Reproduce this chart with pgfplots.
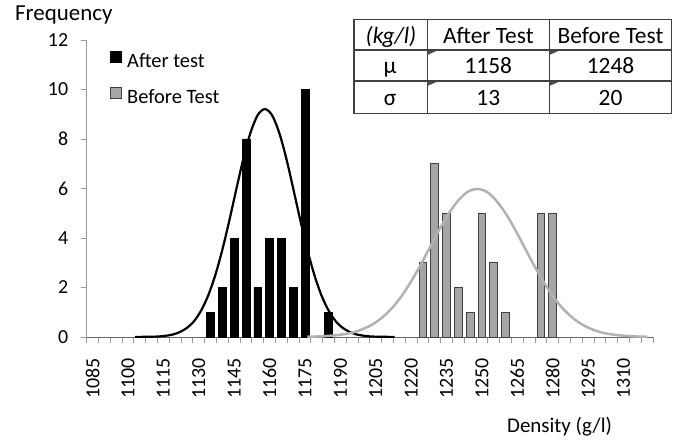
\documentclass[border=0pt]{standalone}
\usepackage{pgfplots}
\pgfplotsset{compat=1.18}
\usepackage{fontspec}
\setmainfont{Carlito}
\definecolor{barg}{HTML}{A6A6A6}
\definecolor{curveg}{HTML}{B2B2B2}
\newcommand{\fs}[1]{\fontsize{#1}{#1}\selectfont}
\pgfplotsset{sq legend/.style={legend image code/.code={\draw[##1,line width=0.7bp] (0bp,-1bp) rectangle (11bp,10bp);}}}
\begin{document}
\begin{tikzpicture}
\path[use as bounding box] (-86.7bp,-104bp) rectangle (592.3bp,337bp);
\begin{axis}[
  at={(0,0)}, anchor=south west,
  scale only axis, width=566.3bp, height=297bp,
  xmin=1082.5, xmax=1322.5, ymin=0, ymax=12,
  axis lines=left,
  x axis line style={-, draw=black!60, line width=1bp},
  y axis line style={-, draw=black!40, line width=1bp},
  tick align=outside,
  xtick={1085,1100,...,1310},
  major x tick style={draw=none},
  minor xtick={1082.5,1087.5,...,1322.5},
  minor x tick style={draw=black!40, line width=0.8bp},
  minor tick length=6bp,
  ytick={0,2,...,12},
  major y tick style={draw=black!40, line width=0.8bp},
  major tick length=6bp,
  /pgf/number format/assume math mode=true,
  /pgf/number format/1000 sep={},
  xticklabel style={rotate=90, anchor=east, font=\fs{20}},
  yticklabel style={font=\fs{20}},
  xticklabel shift=12bp,
  yticklabel shift=9bp,
  legend style={draw=none, fill=none, at={(0.04,0.963)}, anchor=north west,
    font=\fs{20.5}, inner sep=0pt, row sep=17bp, column sep=5bp, nodes={inner sep=1bp}},
  legend cell align=left,
]
\addplot[ybar, bar width=3.3, bar shift=0pt, fill=black, draw=black, sq legend]
  coordinates {(1135,1) (1140,2) (1145,4) (1150,8) (1155,2) (1160,4) (1165,4) (1170,2) (1175,10) (1185,1)};
\addlegendentry{After test}
\addplot[ybar, bar width=3.3, bar shift=0pt, fill=barg, draw=black!75, line width=0.8bp, sq legend]
  coordinates {(1225,3) (1230,7) (1235,5) (1240,2) (1245,1) (1250,5) (1255,3) (1260,1) (1275,5) (1280,5)};
\addlegendentry{Before Test}
\addplot[smooth, black, line width=2.2bp, forget plot] coordinates {
(1103,0.00) (1108,0.01) (1113,0.02) (1116,0.05) (1119,0.10) (1122,0.20) (1125,0.37)
(1128,0.64) (1131,1.07) (1134,1.68) (1137,2.50) (1140,3.53) (1143,4.73) (1146,6.01)
(1149,7.25) (1152,8.28) (1155,8.97) (1158,9.21) (1161,8.97) (1164,8.28) (1167,7.25)
(1170,6.01) (1173,4.73) (1176,3.53) (1179,2.50) (1182,1.68) (1185,1.07) (1188,0.64)
(1191,0.37) (1194,0.20) (1197,0.10) (1200,0.05) (1203,0.02) (1208,0.01) (1213,0.00)};
\addplot[smooth, curveg, line width=2.5bp, forget plot] coordinates {
(1176,0.01) (1180,0.02) (1184,0.04) (1188,0.07) (1192,0.12) (1196,0.20) (1200,0.34)
(1204,0.53) (1208,0.81) (1212,1.18) (1216,1.66) (1220,2.25) (1224,2.91) (1228,3.63)
(1232,4.35) (1236,5.00) (1240,5.52) (1244,5.87) (1248,5.98) (1252,5.87) (1256,5.52)
(1260,5.00) (1264,4.35) (1268,3.63) (1272,2.91) (1276,2.25) (1280,1.66) (1284,1.18)
(1288,0.81) (1292,0.53) (1296,0.34) (1300,0.20) (1304,0.12) (1308,0.07) (1312,0.04)
(1316,0.02) (1320,0.01)};
\end{axis}
\begin{scope}[x=1bp,y=-1bp,shift={(-86.7bp,337bp)}]
  \node[anchor=base west, inner sep=0pt, font=\fs{23}] at (15,21) {Frequency};
  \node[anchor=base west, inner sep=0pt, font=\fs{21}] at (507,433) {Density (g/l)};
  % table
  \draw[black!75, line width=1.3bp] (354,19.3) rectangle (671.7,113.3);
  \draw[black!75, line width=1.3bp] (354,50) -- (671.7,50) (354,81) -- (671.7,81)
     (427.3,19.3) -- (427.3,113.3) (549.3,19.3) -- (549.3,113.3);
  \foreach \cx in {428,550} \foreach \cy in {50.7,81.7}
     \fill[black!70] (\cx,\cy) -- (\cx+9,\cy) -- (\cx,\cy+4) -- cycle;
  \begin{scope}[every node/.style={anchor=base, inner sep=0pt, font=\fs{23.5}}]
  \node at (391,43.5) {\itshape (kg/l)};
  \node at (488.3,43.5) {After Test};
  \node at (610.5,43.5) {Before Test};
  \node at (390,74) {μ};
  \node at (488.3,74) {1158};
  \node at (610.5,74) {1248};
  \node at (390,105.7) {σ};
  \node at (488.3,105.7) {13};
  \node at (610.5,105.7) {20};
  \end{scope}
\end{scope}
\end{tikzpicture}
\end{document}
